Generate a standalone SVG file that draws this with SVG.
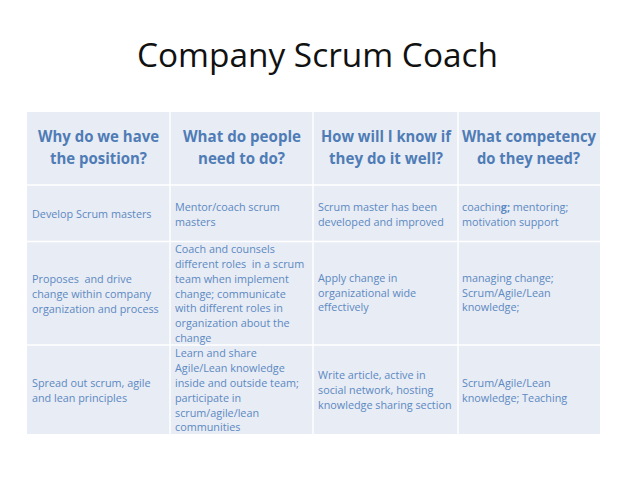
<svg xmlns="http://www.w3.org/2000/svg" width="638" height="478" viewBox="0 0 638 478">
<style>
.title{font-family:"Open Sans","Liberation Sans",sans-serif;font-size:32.5px;fill:#111111}
.hd{font-family:"Open Sans","Liberation Sans",sans-serif;font-size:16.5px;font-weight:bold;fill:#4f7cb6;text-anchor:middle}
.bd{font-family:"Open Sans","Liberation Sans",sans-serif;font-size:10.8px;fill:#5b89c3}
.cell{fill:#e8ecf4}
.grid{stroke:#ffffff;stroke-width:1.5;fill:none}
</style>
<rect width="638" height="478" fill="#ffffff"/>
<text class="title" x="317.5" y="67" text-anchor="middle" textLength="361" lengthAdjust="spacingAndGlyphs">Company Scrum Coach</text>
<g id="table">
<rect class="cell" x="27" y="112" width="573" height="322"/>
<g id="grid" class="grid">
<line x1="27" y1="185" x2="600" y2="185"/>
<line x1="27" y1="241.5" x2="600" y2="241.5"/>
<line x1="27" y1="345" x2="600" y2="345"/>
<line x1="170" y1="112" x2="170" y2="434"/>
<line x1="313" y1="112" x2="313" y2="434"/>
<line x1="458" y1="112" x2="458" y2="434"/>
</g>
</g>
<g id="header">
<text class="hd" x="98.5" y="142" textLength="121" lengthAdjust="spacingAndGlyphs">Why do we have</text>
<text class="hd" x="98.5" y="164" textLength="97" lengthAdjust="spacingAndGlyphs">the position?</text>
<text class="hd" x="242" y="142" textLength="118" lengthAdjust="spacingAndGlyphs">What do people</text>
<text class="hd" x="241.5" y="164" textLength="87" lengthAdjust="spacingAndGlyphs">need to do?</text>
<text class="hd" x="386" y="142" textLength="130" lengthAdjust="spacingAndGlyphs">How will I know if</text>
<text class="hd" x="386" y="164" textLength="114" lengthAdjust="spacingAndGlyphs">they do it well?</text>
<text class="hd" x="529" y="142" textLength="134" lengthAdjust="spacingAndGlyphs">What competency</text>
<text class="hd" x="528.5" y="164" textLength="103" lengthAdjust="spacingAndGlyphs">do they need?</text>
</g>
<g id="row1" class="bd">
<text x="32" y="218">Develop Scrum masters</text>
<text x="175" y="210.5">Mentor/coach scrum</text>
<text x="175" y="225.5">masters</text>
<text x="318" y="210.5">Scrum master has been</text>
<text x="318" y="225.5">developed and improved</text>
<text x="462" y="210.5">coachin<tspan font-weight="bold">g;</tspan> mentoring;</text>
<text x="462" y="225.5">motivation support</text>
</g>
<g id="row2" class="bd">
<text x="32" y="282.7" xml:space="preserve">Proposes  and drive</text>
<text x="32" y="297.7">change within company</text>
<text x="32" y="312.5">organization and process</text>
<text x="175" y="253.3">Coach and counsels</text>
<text x="175" y="268.3" xml:space="preserve">different roles  in a scrum</text>
<text x="175" y="282.7">team when implement</text>
<text x="175" y="297.7">change; communicate</text>
<text x="175" y="312.3">with different roles in</text>
<text x="175" y="327.3">organization about the</text>
<text x="175" y="341.7">change</text>
<text x="318" y="281.7">Apply change in</text>
<text x="318" y="296.7">organizational wide</text>
<text x="318" y="311.3">effectively</text>
<text x="462" y="281.7">managing change;</text>
<text x="462" y="296.7">Scrum/Agile/Lean</text>
<text x="462" y="311.3">knowledge;</text>
</g>
<g id="row3" class="bd">
<text x="32" y="386.7">Spread out scrum, agile</text>
<text x="32" y="401.7">and lean principles</text>
<text x="175" y="356.7">Learn and share</text>
<text x="175" y="371.7">Agile/Lean knowledge</text>
<text x="175" y="386.7">inside and outside team;</text>
<text x="175" y="401.7">participate in</text>
<text x="175" y="416.7">scrum/agile/lean</text>
<text x="175" y="431">communities</text>
<text x="318" y="379">Write article, active in</text>
<text x="318" y="394">social network, hosting</text>
<text x="318" y="408.5">knowledge sharing section</text>
<text x="462" y="386.7">Scrum/Agile/Lean</text>
<text x="462" y="401.7">knowledge; Teaching</text>
</g>
</svg>
